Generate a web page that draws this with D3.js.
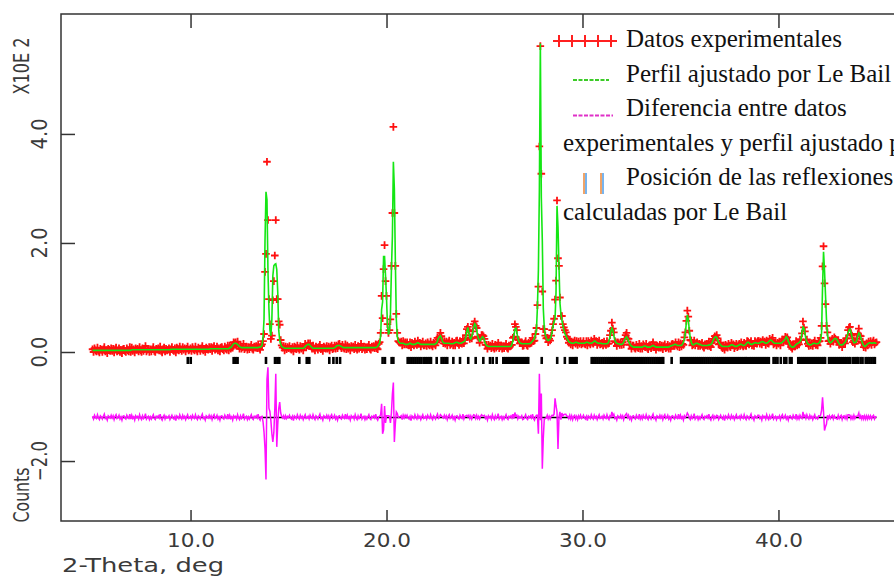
<!DOCTYPE html>
<html><head><meta charset="utf-8">
<script src="https://cdn.jsdelivr.net/npm/d3@7"></script>
<style>html,body{margin:0;padding:0;background:#fff;overflow:hidden}svg{display:block}</style>
</head><body>
<svg id="chart" width="894" height="577"></svg>
<script>
// 2-theta grid of the pattern (GSAS style: start + step)
const start2Theta = 5.0, step2Theta = 0.05;
// observed counts, one row per degree (x.00 ... x.95)
const observed = [
5,0,7,3,1,8,2,-1,6,4,0,5,9,1,3,-2,6,4,2,7,
2,6,-1,5,8,1,3,7,0,4,-2,5,6,2,0,7,3,1,9,0,
8,2,5,-1,7,4,6,1,9,3,0,7,2,5,11,1,4,6,0,5,
1,5,9,2,0,6,4,7,3,10,2,-1,5,8,1,6,3,4,7,0,
5,9,4,2,7,-1,8,6,3,10,5,2,9,4,7,1,6,10,3,4,
7,2,9,5,3,10,4,1,8,6,2,7,11,3,5,0,8,6,4,9,
5,9,2,8,11,4,6,10,3,7,1,8,9,5,3,10,6,4,12,3,
12,6,11,8,18,16,18,12,19,11,6,12,6,9,15,5,8,10,4,9,
5,9,13,6,4,10,8,11,7,14,7,4,11,14,20,33,147,180,349,242,
97,51,24,30,95,130,177,242,97,97,56,50,22,12,8,11,3,10,5,9,
7,11,6,4,9,1,10,8,5,12,7,4,11,6,9,3,9,15,10,12,
16,11,16,10,6,12,6,3,10,8,4,9,13,5,7,2,10,8,6,11,
6,10,3,9,12,5,7,12,6,12,7,14,15,10,7,13,8,6,14,5,
12,6,9,3,11,8,10,5,13,7,4,11,6,9,15,5,8,10,4,9,
5,9,13,6,4,10,8,11,7,14,7,5,15,18,35,103,62,152,196,130,
103,51,35,40,60,158,255,413,255,158,70,35,20,18,17,19,12,20,14,18,
14,18,13,12,18,9,17,15,12,19,15,13,21,15,17,10,15,19,12,13,
16,11,18,14,12,19,13,10,17,15,12,18,26,23,28,35,29,21,16,20,
15,19,12,18,21,13,15,19,12,17,12,20,21,16,13,20,16,15,24,16,
22,31,42,46,40,24,27,25,38,51,56,48,44,28,26,17,24,31,31,29,
24,13,13,6,13,10,12,7,15,9,6,13,8,11,17,7,10,12,6,11,
7,11,15,8,6,12,10,13,13,26,28,51,46,40,23,22,16,16,18,11,
12,16,20,13,11,17,15,19,17,26,20,21,33,44,86,120,377,561,327,111,
42,42,30,25,26,18,24,21,30,40,51,61,96,131,278,172,158,100,66,66,
51,45,40,36,28,24,17,22,14,19,12,18,21,15,20,13,19,15,20,14,
16,20,15,14,20,12,20,17,14,21,17,15,24,19,20,13,17,21,14,15,
17,12,19,15,13,20,15,16,31,39,54,43,36,20,18,11,18,16,13,18,
13,18,14,24,31,35,25,24,13,14,6,12,12,8,6,13,9,7,15,6,
11,6,14,11,9,15,8,5,12,10,7,13,18,9,10,4,12,10,8,13,
8,12,5,11,14,7,9,13,6,11,6,14,15,12,11,18,13,10,18,9,
16,10,15,13,27,36,57,76,65,39,22,21,12,14,21,12,16,18,11,15,
11,14,17,10,8,14,12,15,11,19,11,9,17,24,21,29,27,31,25,14,
15,17,10,7,12,4,13,11,8,15,11,9,17,12,14,7,11,15,9,11,
15,11,18,13,10,17,12,11,20,19,14,17,20,12,15,11,20,18,15,20,
20,15,19,14,22,18,19,13,21,16,15,24,20,22,26,14,16,18,12,17,
15,19,12,19,23,18,22,28,25,27,15,18,15,9,6,13,10,10,20,12,
18,14,23,22,34,56,45,38,22,23,15,11,17,12,16,11,17,21,13,14,
12,19,20,26,48,157,194,126,88,48,36,20,21,15,20,24,19,27,24,22,
19,22,13,15,17,9,16,19,16,25,25,40,45,46,33,30,18,21,15,20,
24,33,43,30,29,17,19,9,13,8,16,12,19,15,20,13,18,21,14,17,
18];
// Le Bail calculated profile on the same grid
const calculated = [
3,3,3,3,3,3,3,3,3,3,3,3,3,3,3,3,3,3,3,3,
3,3,3,3,3,3,3,3,3,3,3,3,3,3,3,3,3,3,3,3,
4,4,4,4,4,4,4,4,4,4,4,4,4,4,4,4,4,4,4,4,
4,4,4,4,4,4,4,4,4,4,4,4,4,4,4,4,4,4,4,4,
5,5,5,5,5,5,5,5,5,5,5,5,5,5,5,5,5,5,5,5,
5,5,5,5,5,5,5,5,5,5,5,5,5,5,5,5,5,5,5,5,
6,6,6,6,6,6,6,6,6,6,6,6,6,6,6,6,6,6,6,6,
8,8,10,13,15,16,16,15,14,12,10,9,8,8,8,8,8,8,8,8,
8,8,8,8,8,8,8,8,8,8,9,9,10,12,28,60,204,294,279,150,
80,40,30,60,140,158,161,162,151,110,40,22,14,10,9,8,7,7,7,7,
7,7,7,7,7,7,7,7,7,7,7,7,7,7,7,7,8,10,12,13,
14,14,12,10,8,7,7,7,7,7,7,7,7,7,7,7,7,7,7,7,
7,7,7,7,7,7,7,8,9,11,12,12,12,11,10,9,8,8,8,8,
8,8,8,8,8,8,8,8,8,8,8,8,8,8,8,8,8,8,8,8,
8,8,8,8,8,8,8,8,8,8,9,10,14,16,30,78,92,175,175,140,
100,48,32,38,70,150,212,349,300,170,60,28,20,17,16,16,16,16,15,14,
14,14,14,15,16,15,14,14,14,14,15,16,17,16,15,14,14,14,14,14,
14,14,14,14,14,14,14,14,14,14,15,16,20,25,28,30,26,20,17,16,
16,16,16,16,16,15,15,15,15,16,17,18,18,17,16,16,16,17,18,19,
20,28,38,45,36,26,24,28,36,46,52,50,40,30,24,20,22,26,28,26,
20,15,12,11,10,10,10,10,10,10,10,10,10,10,10,10,10,10,10,10,
10,10,10,10,10,10,10,10,14,20,30,42,44,36,26,20,17,16,15,15,
15,15,15,15,15,15,15,16,18,20,22,26,32,40,82,150,297,566,283,205,
80,45,32,26,22,21,22,24,28,36,48,55,61,110,268,230,158,90,70,58,
48,40,34,30,26,22,19,18,17,16,16,16,17,18,18,17,16,16,16,16,
16,16,16,17,18,18,17,16,16,16,17,18,20,20,18,17,16,16,16,16,
15,15,15,15,15,15,16,20,28,38,44,40,30,22,18,16,15,15,14,14,
14,15,18,22,26,28,25,20,16,13,11,10,9,9,9,9,9,9,9,9,
9,9,10,11,11,10,9,9,9,9,10,11,12,11,10,9,9,9,9,9,
9,9,9,9,9,9,9,9,9,10,11,12,12,13,14,14,13,12,12,12,
12,12,14,18,24,36,54,68,60,40,26,18,14,13,14,15,16,16,15,14,
14,13,12,12,12,12,12,12,12,13,13,14,16,20,24,27,28,27,22,18,
15,13,11,10,10,10,10,10,10,10,11,12,13,13,12,11,10,10,11,12,
13,14,14,13,12,12,13,15,17,18,17,15,14,14,15,16,17,17,16,16,
16,17,18,19,19,18,17,16,16,17,19,21,22,21,19,17,16,16,16,16,
16,16,16,17,18,20,22,24,28,26,20,16,12,10,9,9,10,12,14,15,
16,17,19,22,36,46,44,34,24,18,15,14,13,13,14,15,16,16,15,15,
15,16,18,22,35,120,184,150,105,60,32,22,18,17,18,20,22,24,25,24,
22,18,15,13,13,13,14,16,18,22,28,35,40,42,36,28,21,17,17,18,
22,30,35,33,26,20,15,12,10,11,13,15,16,17,17,16,16,17,17,16,
16];
// calculated reflection positions (2-theta)
const reflections = [
9.86,10.01,12.2,12.3,12.4,13.85,14.31,14.43,14.53,15.55,15.93,16.06,17.08,17.29,17.46,17.63,19.8,19.92,20.26,20.35,
21.08,21.18,21.28,21.38,21.48,21.58,21.68,21.78,21.9,22.0,22.1,22.2,22.27,22.56,22.81,22.91,23.01,23.1,23.41,23.75,24.17,24.55,24.94,25.28,25.42,25.62,
25.96,26.06,26.16,26.26,26.36,26.46,26.56,26.66,26.76,26.86,26.96,27.06,27.16,27.23,
27.92,28.71,29.1,29.36,29.46,29.56,29.66,29.7,
30.47,30.57,30.67,30.77,30.87,30.97,31.07,31.17,31.27,31.37,31.47,31.57,31.67,31.77,31.87,31.97,32.07,32.17,32.27,32.37,
32.47,32.57,32.67,32.77,32.87,32.97,33.07,33.17,33.27,33.37,33.47,33.57,33.67,33.77,33.87,33.97,34.07,34.12,
34.55,
35.03,35.13,35.23,35.33,35.43,35.53,35.63,35.73,35.83,35.93,36.03,36.13,36.23,36.33,36.43,36.53,36.63,36.73,36.83,36.93,
37.03,37.13,37.23,37.33,37.43,37.53,37.63,37.73,37.83,37.93,38.03,38.13,38.23,38.33,38.38,
38.51,38.61,38.71,38.81,38.91,39.01,39.11,39.21,39.31,39.41,39.51,39.75,39.85,39.95,40.12,40.3,40.4,40.58,40.67,
41.01,41.11,41.21,41.31,41.41,41.51,41.61,41.71,41.81,41.91,42.01,42.11,42.21,42.31,42.38,42.58,42.68,42.78,42.88,42.98,
43.08,43.18,43.28,43.38,43.48,43.58,43.66,43.8,43.9,44.0,44.06,44.19,44.29,44.45,44.55,44.65,44.75,44.85,44.92];
const diffOffset = -120;   // difference curve baseline (counts)
const xTicks = [10, 20, 30, 40];
const xTickLabels = ["10.0", "20.0", "30.0", "40.0"];
const yTicks = [400, 200, 0, -200];
const yTickLabels = ["4.0", "2.0", "0.0", "\u22122.0"];
const xTitle = "2-Theta, deg";
const yTitleTop = "X10E  2";
const yTitleBottom = "Counts";
const legendLines = [
  {text: "Datos experimentales", indent: true},
  {text: "Perfil ajustado por Le Bail", indent: true},
  {text: "Diferencia entre datos", indent: true},
  {text: "experimentales y perfil ajustado por Le Bail", indent: false},
  {text: "Posición de las reflexiones", indent: true},
  {text: "calculadas por Le Bail", indent: false}
];

const svg = d3.select("#chart");
const x = d3.scaleLinear().domain([3.39, 46.61]).range([61, 908]);
const y = d3.scaleLinear().domain([-310, 620]).range([521, 14]);
const tt = observed.map((_, i) => start2Theta + i * step2Theta);

const ink = "#333";
// frame
svg.append("rect").attr("x", x.range()[0]).attr("y", y.range()[1])
  .attr("width", x.range()[1] - x.range()[0]).attr("height", y.range()[0] - y.range()[1])
  .attr("fill", "none").attr("stroke", ink).attr("stroke-width", 1.5);

const tidy = s => { s.select(".domain").remove(); s.selectAll(".tick line").attr("stroke", ink).attr("stroke-width", 1.5); };
svg.append("g").attr("transform", `translate(0,${y.range()[0]})`)
  .call(d3.axisBottom(x).tickValues(xTicks).tickFormat((d, i) => xTickLabels[i]).tickSizeInner(-11).tickSizeOuter(0).tickPadding(12))
  .call(tidy)
  .call(s => s.selectAll("text").attr("font-family", "DejaVu Sans").attr("font-size", 20).attr("fill", "#3a3a3a")
    .attr("textLength", 48).attr("lengthAdjust", "spacingAndGlyphs"));
svg.append("g").attr("transform", `translate(0,${y.range()[1]})`)
  .call(d3.axisTop(x).tickValues(xTicks).tickFormat("").tickSizeInner(-14).tickSizeOuter(0)).call(tidy);
svg.append("g").attr("transform", `translate(${x.range()[0]},0)`)
  .call(d3.axisLeft(y).tickValues(yTicks).tickFormat("").tickSizeInner(-14).tickSizeOuter(0)).call(tidy);
svg.append("g").attr("transform", `translate(${x.range()[1]},0)`)
  .call(d3.axisRight(y).tickValues(yTicks).tickFormat("").tickSizeInner(-14).tickSizeOuter(0)).call(tidy);

// y tick labels (rotated)
svg.append("g").selectAll("text").data(yTicks).join("text")
  .attr("transform", d => `translate(47,${y(d)}) rotate(-90)`)
  .attr("text-anchor", "middle").attr("font-family", "DejaVu Sans").attr("font-size", 21).attr("fill", "#3a3a3a")
  .attr("textLength", (d, i) => yTickLabels[i].length > 3 ? 40 : 31).attr("lengthAdjust", "spacingAndGlyphs")
  .text((d, i) => yTickLabels[i]);
svg.append("text").attr("transform", "translate(29,66) rotate(-90)").attr("text-anchor", "middle")
  .attr("font-family", "DejaVu Sans").attr("font-size", 21).attr("fill", "#3a3a3a")
  .attr("textLength", 57).attr("lengthAdjust", "spacingAndGlyphs").text(yTitleTop);
svg.append("text").attr("transform", "translate(29,495) rotate(-90)").attr("text-anchor", "middle")
  .attr("font-family", "DejaVu Sans").attr("font-size", 21).attr("fill", "#3a3a3a")
  .attr("textLength", 55).attr("lengthAdjust", "spacingAndGlyphs").text(yTitleBottom);
svg.append("text").attr("x", 62).attr("y", 572)
  .attr("font-family", "DejaVu Sans").attr("font-size", 20).attr("fill", "#3a3a3a")
  .attr("textLength", 162).attr("lengthAdjust", "spacingAndGlyphs").text(xTitle);

// observed points
const arm = 3.8;
svg.append("g").attr("stroke", "#ff1010").attr("stroke-width", 1.8).attr("fill", "none")
  .selectAll("path").data(observed).join("path")
  .attr("d", (d, i) => `M${x(tt[i]) - arm},${y(d)}h${2 * arm}M${x(tt[i])},${y(d) - arm}v${2 * arm}`);

// reflection markers
const rTop = y(-9), rBot = y(-22);
svg.append("g").selectAll("rect").data(reflections).join("rect")
  .attr("x", d => x(d) - 1.3).attr("y", rTop).attr("width", 2.6).attr("height", rBot - rTop).attr("fill", "#000");

// calculated profile
svg.append("path").datum(calculated)
  .attr("d", d3.line().x((d, i) => x(tt[i])).y(d => y(d)))
  .attr("fill", "none").attr("stroke", "#14e614").attr("stroke-width", 1.6);

// difference zero line and difference curve
svg.append("path").datum([tt[0], tt[tt.length - 1]])
  .attr("d", d3.line().x(d => x(d)).y(() => y(diffOffset)))
  .attr("stroke", "#000").attr("stroke-width", 1.5);
svg.append("path").datum(observed.map((o, i) => diffOffset + o - calculated[i]))
  .attr("d", d3.line().x((d, i) => x(tt[i])).y(d => y(d)))
  .attr("fill", "none").attr("stroke", "#ff10ff").attr("stroke-width", 1.5);

// legend
const lg = svg.append("g");
const baselines = [47, 81.5, 116, 150.5, 185, 219.5];
lg.selectAll("text").data(legendLines).join("text")
  .attr("x", d => d.indent ? 626 : 563).attr("y", (d, i) => baselines[i])
  .attr("font-family", "Liberation Serif, serif").attr("font-size", 25).attr("fill", "#111")
  .text(d => d.text);
// +++++ symbol
const plusX = [559, 572, 585, 598, 611];
lg.append("line").attr("x1", 553).attr("x2", 617).attr("y1", 41).attr("y2", 41).attr("stroke", "#ff2020").attr("stroke-width", 2);
lg.selectAll(".pl").data(plusX).join("line").attr("class", "pl")
  .attr("x1", d => d).attr("x2", d => d).attr("y1", 35).attr("y2", 47).attr("stroke", "#ff2020").attr("stroke-width", 2);
lg.append("line").attr("x1", 573).attr("x2", 609).attr("y1", 80).attr("y2", 80)
  .attr("stroke", "#3ccc28").attr("stroke-width", 2).attr("stroke-dasharray", "4,1.5");
lg.append("line").attr("x1", 573).attr("x2", 613).attr("y1", 115.5).attr("y2", 115.5)
  .attr("stroke", "#e030c8").attr("stroke-width", 2).attr("stroke-dasharray", "4,1.5");
[583, 600].forEach(bx => {
  lg.append("rect").attr("x", bx).attr("y", 173).attr("width", 2).attr("height", 21).attr("fill", "#f0a468");
  lg.append("rect").attr("x", bx + 2).attr("y", 173).attr("width", 2).attr("height", 21).attr("fill", "#78b4ee");
});
</script>
</body></html>
